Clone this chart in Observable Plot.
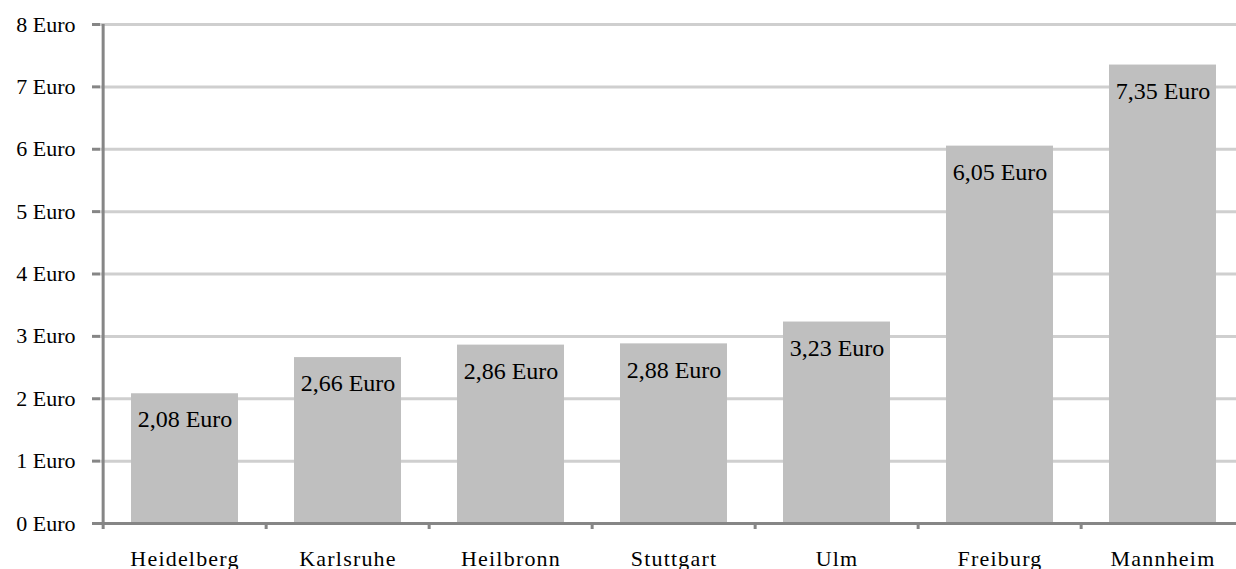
<!DOCTYPE html>
<html>
<head>
<meta charset="utf-8">
<script src="https://cdn.jsdelivr.net/npm/d3@7"></script>
<script src="https://cdn.jsdelivr.net/npm/@observablehq/plot@0.6"></script>
<style>
  html, body { margin: 0; padding: 0; background: #fff; overflow: hidden; }
  #chart svg { display: block; }
</style>
</head>
<body>
<div id="chart"></div>
<script>
// Preis je Stadt in Euro
const cities = ["Heidelberg", "Karlsruhe", "Heilbronn", "Stuttgart", "Ulm", "Freiburg", "Mannheim"];
const prices = [2.08, 2.66, 2.86, 2.88, 3.23, 6.05, 7.35];
const yTicks = [0, 1, 2, 3, 4, 5, 6, 7, 8];

const data = cities.map((city, i) => ({city, price: prices[i]}));
const euro = v => v.toFixed(2).replace(".", ",") + " Euro";

// horizontal extent of the category axis (the last band runs past the page edge)
const xLeft = 100, xRight = 1246;
const step = (xRight - xLeft) / cities.length;

const axisGray = "#868686";

const chart = Plot.plot({
  width: 1236,
  height: 569,
  marginLeft: 100,
  marginRight: 0,
  marginTop: 24,
  marginBottom: 46,
  style: {fontFamily: "'Liberation Serif', 'Times New Roman', serif", fontSize: "22px", color: "#000", background: "#fff"},
  x: {domain: cities, range: [xLeft, xRight], paddingInner: 0.346, paddingOuter: 0.173, axis: null},
  y: {domain: [0, 8], axis: null},
  marks: [
    // gridlines
    Plot.ruleY(yTicks.filter(v => v > 0), {stroke: "#cfcfcf", strokeWidth: 3}),
    // bars
    Plot.barY(data, {x: "city", y: "price", fill: "#bfbfbf"}),
    // value labels inside the bars
    Plot.text(data, {x: "city", y: "price", text: d => euro(d.price), dy: 26, fontSize: 24, fill: "#000"}),
    // category baseline
    Plot.ruleY([0], {stroke: axisGray, strokeWidth: 3}),
    // value axis line
    Plot.ruleX([cities[0]], {x: d => d, y1: 0, y2: 8, dx: -step / 2, stroke: axisGray, strokeWidth: 3}),
    // value axis ticks and labels
    Plot.axisY({ticks: yTicks, tickFormat: d => `${d} Euro`, tickSize: 8, tickPadding: 17, stroke: axisGray, strokeWidth: 3, label: null, fill: "#000"}),
    // category boundary ticks
    Plot.axisX({tickSize: 6, text: null, dx: -step / 2, stroke: axisGray, strokeWidth: 3, label: null}),
    // category labels
    Plot.axisX({tickSize: 0, tickPadding: 27, label: null, fill: "#000", fontSize: 22})
  ]
});

chart.querySelectorAll("text").forEach(t => {
  // category labels are set with slightly wider spacing
  if (cities.includes(t.textContent)) t.setAttribute("letter-spacing", "1.2");
});

document.getElementById("chart").appendChild(chart);
</script>
</body>
</html>
